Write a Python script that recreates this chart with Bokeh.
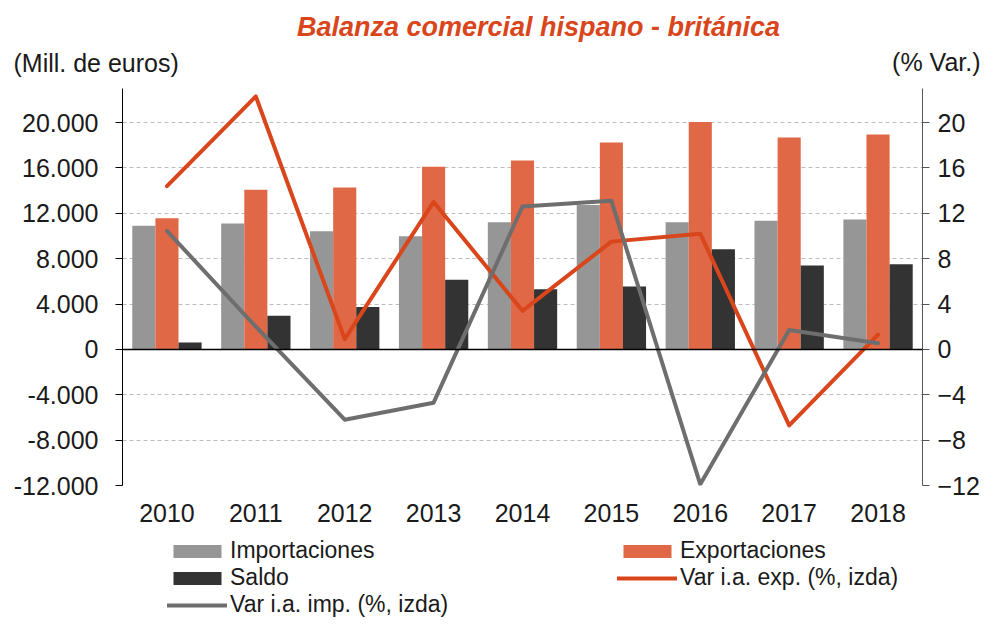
from bokeh.plotting import figure
from bokeh.layouts import column
from bokeh.models import (Range1d, LinearAxis, FixedTicker, Span, Label, Legend, LegendItem,
                          ColumnDataSource)
from bokeh.transform import dodge
from bokeh.embed import file_html
from bokeh.resources import INLINE

years = ["2010", "2011", "2012", "2013", "2014", "2015", "2016", "2017", "2018"]
importaciones = [10900, 11100, 10420, 9980, 11210, 12720, 11210, 11330, 11450]
exportaciones = [11570, 14070, 14280, 16100, 16660, 18250, 20040, 18690, 18950]
saldo = [600, 2975, 3740, 6150, 5300, 5535, 8830, 7390, 7505]
var_exp = [14.4, 22.3, 0.9, 13.0, 3.4, 9.5, 10.2, -6.7, 1.3]
var_imp = [10.45, 2.0, -6.2, -4.7, 12.6, 13.1, -11.9, 1.7, 0.55]

left_ticks = [-12000, -8000, -4000, 0, 4000, 8000, 12000, 16000, 20000]
left_tick_labels = ["-12.000", "-8.000", "-4.000", "0", "4.000", "8.000", "12.000", "16.000", "20.000"]
right_ticks = [-12, -8, -4, 0, 4, 8, 12, 16, 20]

FONT = "Liberation Sans"
TXT = "#1a1a1a"
C_IMP = "#969696"
C_EXP = "#E06846"
C_SAL = "#333333"
C_LEXP = "#D9461B"
C_LIMP = "#6E6E6E"

W = 982
MAIN_H = 532
LEG_H = 618 - MAIN_H

source = ColumnDataSource(dict(years=years, imp=importaciones, exp=exportaciones, sal=saldo,
                               vexp=var_exp, vimp=var_imp))

p = figure(width=W, height=MAIN_H, x_range=years, y_range=Range1d(-12000, 23000),
           output_backend="svg", toolbar_location=None,
           min_border_left=122, min_border_right=52, min_border_top=88,
           min_border_bottom=MAIN_H - 485)
p.extra_y_ranges = {"pct": Range1d(-12, 23)}
p.outline_line_color = None
p.xgrid.grid_line_color = None
p.ygrid.ticker = FixedTicker(ticks=left_ticks)
p.ygrid.grid_line_color = "#BDBDBD"
p.ygrid.grid_line_dash = "4 3"
p.ygrid.grid_line_width = 1

bw = 0.26
p.vbar(x=dodge("years", -bw, range=p.x_range), top="imp", width=bw, source=source,
       fill_color=C_IMP, line_color=None)
p.vbar(x=dodge("years", 0, range=p.x_range), top="exp", width=bw, source=source,
       fill_color=C_EXP, line_color=None)
p.vbar(x=dodge("years", bw, range=p.x_range), top="sal", width=bw, source=source,
       fill_color=C_SAL, line_color=None)

p.add_layout(Span(location=0, dimension="width", line_color="black", line_width=1.5))

p.line(x="years", y="vexp", source=source, y_range_name="pct",
       line_color=C_LEXP, line_width=4, line_join="round", line_cap="round")
p.line(x="years", y="vimp", source=source, y_range_name="pct",
       line_color=C_LIMP, line_width=4, line_join="round", line_cap="round")

ya = p.yaxis[0]
ya.ticker = FixedTicker(ticks=left_ticks)
ya.major_label_overrides = {t: l for t, l in zip(left_ticks, left_tick_labels)}
ya.axis_line_color = "black"
ya.major_tick_line_color = "black"
ya.major_tick_out = 7
ya.major_tick_in = 0
ya.minor_tick_line_color = None
ya.major_label_standoff = 17
ya.major_label_text_font = FONT
ya.major_label_text_font_size = "25px"
ya.major_label_text_color = TXT

ra = LinearAxis(y_range_name="pct", ticker=FixedTicker(ticks=right_ticks))
ra.axis_line_color = "#555555"
ra.major_tick_line_color = "#555555"
ra.major_tick_out = 7
ra.major_tick_in = 0
ra.minor_tick_line_color = None
ra.major_label_standoff = 8
ra.major_label_text_font = FONT
ra.major_label_text_font_size = "25px"
ra.major_label_text_color = TXT
p.add_layout(ra, "right")

xa = p.xaxis[0]
xa.axis_line_color = None
xa.major_tick_line_color = None
xa.major_tick_out = 0
xa.major_label_standoff = 18
xa.major_label_text_font = FONT
xa.major_label_text_font_size = "25px"
xa.major_label_text_color = TXT

p.add_layout(Label(x=416, y=62, x_units="screen", y_units="screen",
                   text="Balanza comercial hispano - británica", text_align="center",
                   text_baseline="alphabetic", text_font=FONT, text_font_size="27px",
                   text_font_style="bold italic", text_color=C_LEXP), "above")
p.add_layout(Label(x=-109, y=-4, x_units="screen", y_units="screen",
                   text="(Mill. de euros)", text_align="left", text_baseline="alphabetic",
                   text_font=FONT, text_font_size="25px", text_color=TXT), "above")
p.add_layout(Label(x=858, y=-31, x_units="screen", y_units="screen",
                   text="(% Var.)", text_align="right", text_baseline="alphabetic",
                   text_font=FONT, text_font_size="25px", text_color=TXT), "above")

# ---- legend strip: same series, on a range that lies above all of their values ----
lf = figure(width=W, height=LEG_H, x_range=years, y_range=Range1d(50000, 60000),
            x_axis_type=None, y_axis_type=None,
            output_backend="svg", toolbar_location=None,
            min_border_left=122, min_border_right=52, min_border_top=0, min_border_bottom=0)
lf.outline_line_color = None
lf.grid.grid_line_color = None
g_imp = lf.vbar(x="years", top="imp", width=bw, source=source, fill_color=C_IMP, line_color=None)
g_exp = lf.vbar(x="years", top="exp", width=bw, source=source, fill_color=C_EXP, line_color=None)
g_sal = lf.vbar(x="years", top="sal", width=bw, source=source, fill_color=C_SAL, line_color=None)
g_lexp = lf.line(x="years", y="vexp", source=source, line_color=C_LEXP, line_width=4,
                 line_cap="round", line_join="round")
g_limp = lf.line(x="years", y="vimp", source=source, line_color=C_LIMP, line_width=4,
                 line_cap="round", line_join="round")

legend = Legend(items=[LegendItem(label="Importaciones", renderers=[g_imp]),
                       LegendItem(label="Exportaciones", renderers=[g_exp]),
                       LegendItem(label="Saldo", renderers=[g_sal]),
                       LegendItem(label="Var i.a. exp. (%, izda)", renderers=[g_lexp]),
                       LegendItem(label="Var i.a. imp. (%, izda)", renderers=[g_limp])],
                orientation="horizontal", ncols=2, location=(45, 0),
                padding=0, margin=0, spacing=0, glyph_width=60, glyph_height=16,
                label_standoff=3, label_width=387,
                label_text_font=FONT, label_text_font_size="23px", label_text_color=TXT,
                border_line_color=None, background_fill_alpha=0)
lf.add_layout(legend)

open("out.html", "w").write(file_html(column(p, lf, spacing=0), INLINE))
